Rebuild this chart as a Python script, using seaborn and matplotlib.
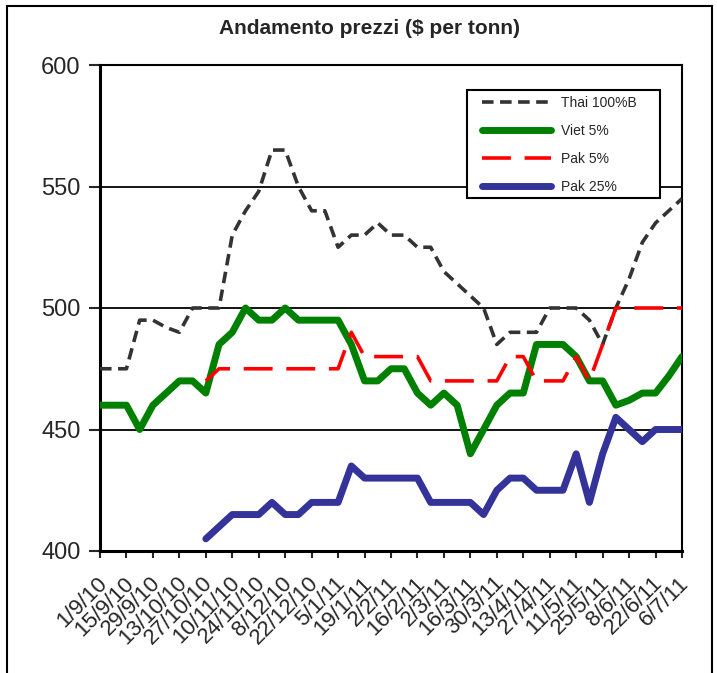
import numpy as np
import pandas as pd
import matplotlib
matplotlib.use("Agg")
import matplotlib.pyplot as plt
import matplotlib.transforms as mtransforms
import seaborn as sns
from matplotlib.patches import Rectangle

# === Data (weekly prices, $ per tonn) ===
nan = np.nan
thai_100b = [475, 475, 475, 495, 495, 492, 490, 500, 500, 500, 530, 540, 548, 565, 565,
             550, 540, 540, 525, 530, 530, 535, 530, 530, 525, 525, 515, 510, 505, 500,
             485, 490, 490, 490, 500, 500, 500, 495, 485, 500, 512, 527, 535, 540, 545]
viet_5 = [460, 460, 460, 450, 460, 465, 470, 470, 465, 485, 490, 500, 495, 495, 500,
          495, 495, 495, 495, 485, 470, 470, 475, 475, 465, 460, 465, 460, 440, 450,
          460, 465, 465, 485, 485, 485, 480, 470, 470, 460, 462, 465, 465, 472, 480]
pak_5 = [nan, nan, nan, nan, nan, nan, nan, nan, 470, 475, 475, 475, 475, 475, 475,
         475, 475, 475, 475, 490, 480, 480, 480, 480, 480, 470, 470, 470, 470, 470,
         470, 480, 480, 470, 470, 470, 480, 470, 485, 500, 500, 500, 500, 500, 500]
pak_25 = [nan, nan, nan, nan, nan, nan, nan, nan, 405, 410, 415, 415, 415, 420, 415,
          415, 420, 420, 420, 435, 430, 430, 430, 430, 430, 420, 420, 420, 420, 415,
          425, 430, 430, 425, 425, 425, 440, 420, 440, 455, 450, 445, 450, 450, 450]

tick_labels = ["1/9/10", "15/9/10", "29/9/10", "13/10/10", "27/10/10", "10/11/10",
               "24/11/10", "8/12/10", "22/12/10", "5/1/11", "19/1/11", "2/2/11",
               "16/2/11", "2/3/11", "16/3/11", "30/3/11", "13/4/11", "27/4/11",
               "11/5/11", "25/5/11", "8/6/11", "22/6/11", "6/7/11"]

weeks = np.arange(len(thai_100b))

# === Setup ===
sns.set_style("white")
plt.rcParams["font.family"] = ["Liberation Sans", "DejaVu Sans"]

fig = plt.figure(figsize=(7.17, 6.73), dpi=100)
ax = fig.add_axes([100 / 717, 1 - 551 / 673, 582 / 717, 486 / 673])

# grid first
for yv in [450, 500, 550]:
    ax.axhline(yv, color="black", lw=1.3, zorder=1)

sns.lineplot(x=weeks, y=thai_100b, ax=ax, color="#333333", lw=2.6,
             linestyle=(0, (3.2, 1.8)), label="Thai 100%B", zorder=3)
sns.lineplot(x=weeks, y=viet_5, ax=ax, color="#008000", lw=5,
             label="Viet 5%", zorder=3)
sns.lineplot(x=weeks, y=pak_5, ax=ax, color="#ff0000", lw=2.6,
             linestyle=(0, (8, 3.8)), label="Pak 5%", zorder=3)
sns.lineplot(x=weeks, y=pak_25, ax=ax, color="#333399", lw=5,
             label="Pak 25%", zorder=3)

ax.set_xlim(0, len(weeks) - 1)
ax.set_ylim(400, 600)
ax.set_yticks([400, 450, 500, 550, 600])
ax.set_xticks(weeks[::2])
ax.set_xticklabels(tick_labels, rotation=45, ha="right", va="center",
                   rotation_mode="anchor", fontsize=16)
ax.tick_params(axis="y", labelsize=17, length=8, width=1.5, pad=6, direction="out", left=True)
ax.tick_params(axis="x", length=5, width=1.5, pad=16, direction="out", bottom=True)
shift = mtransforms.ScaledTranslation(0.04, 0, fig.dpi_scale_trans)
for lab in ax.get_xticklabels():
    lab.set_transform(lab.get_transform() + shift)
ax.set_xlabel("")
ax.set_ylabel("")

for side in ["left", "bottom"]:
    ax.spines[side].set_linewidth(2.2)
    ax.spines[side].set_color("black")
for side in ["top", "right"]:
    ax.spines[side].set_linewidth(1.5)
    ax.spines[side].set_color("black")

# legend without its own frame, box drawn separately
leg = ax.legend(loc="upper left", bbox_to_anchor=(0.6564, 0.936), borderaxespad=0,
                borderpad=0, fontsize=10, handlelength=5, labelspacing=1.0,
                frameon=False, handletextpad=0.7)
leg.set_zorder(6)
ax.add_patch(Rectangle((0.6306, 0.7263), 0.3316, 0.2223, transform=ax.transAxes,
                       facecolor="white", edgecolor="black", lw=1.5, zorder=5))

fig.text(0.516, 0.958, "Andamento prezzi ($ per tonn)", ha="center", va="center",
         fontsize=15, fontweight="bold")

# outer frame
fig.patches.append(Rectangle((7 / 717, -0.02), 705 / 717, 1.02 - 6 / 673,
                             transform=fig.transFigure, fill=False,
                             edgecolor="black", lw=1.5))

fig.savefig("out.png", dpi=100)
